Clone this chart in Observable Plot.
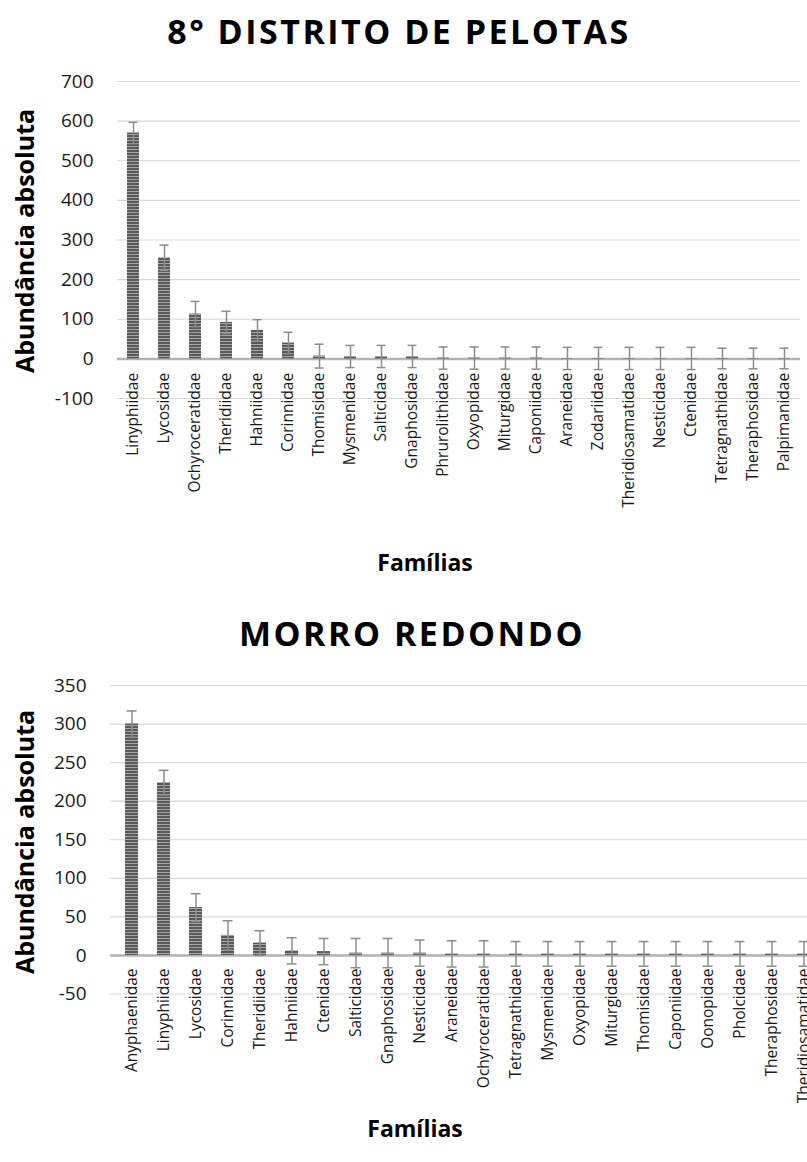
<!DOCTYPE html>
<html>
<head>
<meta charset="utf-8">
<script src="https://cdn.jsdelivr.net/npm/d3@7"></script>
<script src="https://cdn.jsdelivr.net/npm/@observablehq/plot@0.6"></script>
<style>
  html, body { margin: 0; padding: 0; background: #fff; overflow: hidden; }
  #page { position: relative; width: 807px; height: 1162px; overflow: hidden; background: #fff; font-family: "Open Sans", sans-serif; color: #000; }
  .title { position: absolute; transform: translate(-50%, -50%); font-weight: 700; font-size: 34px; letter-spacing: 2.5px; white-space: nowrap; }
  .xlab { position: absolute; transform: translate(-50%, -50%); font-weight: 700; font-size: 23px; white-space: nowrap; }
  .ylab { position: absolute; transform: translate(-50%, -50%) rotate(-90deg); font-weight: 700; font-size: 25px; white-space: nowrap; }
  .chart { position: absolute; left: 0; }
</style>
</head>
<body>
<div id="page">
  <div class="title" style="left:399px; top:31px;">8° DISTRITO DE PELOTAS</div>
  <div class="ylab" style="left:24px; top:241px;">Abundância absoluta</div>
  <div class="xlab" style="left:425px; top:562px;">Famílias</div>
  <div class="title" style="left:412px; top:633px;">MORRO REDONDO</div>
  <div class="ylab" style="left:24px; top:842px;">Abundância absoluta</div>
  <div class="xlab" style="left:415px; top:1128px;">Famílias</div>
  <div id="c1" class="chart" style="top:0px; width:800px;"></div>
  <div id="c2" class="chart" style="top:600px; width:824px;"></div>
</div>
<script>
// ---- 8° Distrito de Pelotas ----
const familiesTop = ["Linyphiidae","Lycosidae","Ochyroceratidae","Theridiidae","Hahniidae","Corinnidae","Thomisidae","Mysmenidae","Salticidae","Gnaphosidae","Phrurolithidae","Oxyopidae","Miturgidae","Caponiidae","Araneidae","Zodariidae","Theridiosamatidae","Nesticidae","Ctenidae","Tetragnathidae","Theraphosidae","Palpimanidae"];
const valuesTop = [570, 255, 113, 92, 72, 40, 7, 6, 6, 6, 2, 2, 2, 2, 1, 1, 1, 1, 1, 1, 1, 1];
const errorsTop = [27, 32, 32, 28, 27, 27, 30, 28, 28, 28, 28, 28, 28, 28, 28, 28, 28, 28, 28, 26, 26, 26];
const ticksTop = [-100, 0, 100, 200, 300, 400, 500, 600, 700];

// ---- Morro Redondo ----
const familiesBot = ["Anyphaenidae","Linyphiidae","Lycosidae","Corinnidae","Theridiidae","Hahniidae","Ctenidae","Salticidae","Gnaphosidae","Nesticidae","Araneidae","Ochyroceratidae","Tetragnathidae","Mysmenidae","Oxyopidae","Miturgidae","Thomisidae","Caponiidae","Oonopidae","Pholcidae","Theraphosidae","Theridiosamatidae"];
const valuesBot = [300, 224, 62, 26, 16, 6, 5, 3, 3, 3, 2, 2, 2, 2, 2, 2, 2, 2, 2, 2, 2, 2];
const errorsBot = [17, 16, 18, 19, 16, 17, 17, 19, 19, 17, 17, 17, 16, 16, 16, 16, 16, 16, 16, 16, 16, 16];
const ticksBot = [-50, 0, 50, 100, 150, 200, 250, 300, 350];

function makeChart({families, values, errors, ticks, domain, width, height, marginLeft, marginTop, marginBottom, pid, labelDy}) {
  const data = families.map((f, i) => ({f, v: values[i], e: errors[i]}));
  const errColor = "#8c8c8c";
  const svg = Plot.plot({
    width, height, marginLeft, marginRight: 0, marginTop, marginBottom,
    style: {fontFamily: "'Open Sans', sans-serif", color: "#1a1a1a", background: "transparent", overflow: "visible", maxWidth: "none"},
    x: {type: "band", domain: families, paddingInner: 0.6, paddingOuter: 0.3, axis: null},
    y: {domain, axis: null},
    marks: [
      Plot.gridY(ticks, {stroke: "#d9d9d9", strokeOpacity: 1, strokeWidth: 1.2}),
      Plot.axisY(ticks, {tickSize: 0, tickPadding: 24, fontSize: 19, label: null, fill: "#1a1a1a", tickFormat: d => String(d)}),
      Plot.ruleY([0], {stroke: "#b3b3b3", strokeWidth: 2.5}),
      Plot.barY(data, {x: "f", y: "v", fill: `url(#${pid})`}),
      Plot.ruleX(data, {x: "f", y1: d => d.v - d.e, y2: d => d.v + d.e, stroke: errColor, strokeWidth: 1.5}),
      Plot.tickY(data, {x: "f", y: d => d.v + d.e, stroke: errColor, strokeWidth: 1.5, insetLeft: 1.5, insetRight: 1.5}),
      Plot.tickY(data, {x: "f", y: d => d.v - d.e, stroke: errColor, strokeWidth: 1.5, insetLeft: 1.5, insetRight: 1.5}),
      Plot.text(data, {x: "f", y: 0, text: "f", rotate: -90, textAnchor: "end", dy: labelDy, fontSize: 15.5, fill: "#1a1a1a"})
    ]
  });
  svg.style.maxWidth = "none";
  svg.style.width = width + "px";
  svg.style.height = height + "px";
  const ns = "http://www.w3.org/2000/svg";
  const defs = document.createElementNS(ns, "defs");
  defs.innerHTML = `<pattern id="${pid}" patternUnits="userSpaceOnUse" width="6" height="3"><rect width="6" height="3" fill="#a6a6a6"></rect><rect width="6" height="2" fill="#595959"></rect></pattern>`;
  svg.insertBefore(defs, svg.firstChild);
  return svg;
}

document.getElementById("c1").appendChild(makeChart({
  families: familiesTop, values: valuesTop, errors: errorsTop, ticks: ticksTop,
  domain: [-100, 700], width: 800, height: 600, marginLeft: 117, marginTop: 81, marginBottom: 202,
  pid: "stripes1", labelDy: 14
}));
document.getElementById("c2").appendChild(makeChart({
  families: familiesBot, values: valuesBot, errors: errorsBot, ticks: ticksBot,
  domain: [-50, 350], width: 824, height: 562, marginLeft: 110, marginTop: 85, marginBottom: 168.5,
  pid: "stripes2", labelDy: 13
}));
</script>
</body>
</html>
